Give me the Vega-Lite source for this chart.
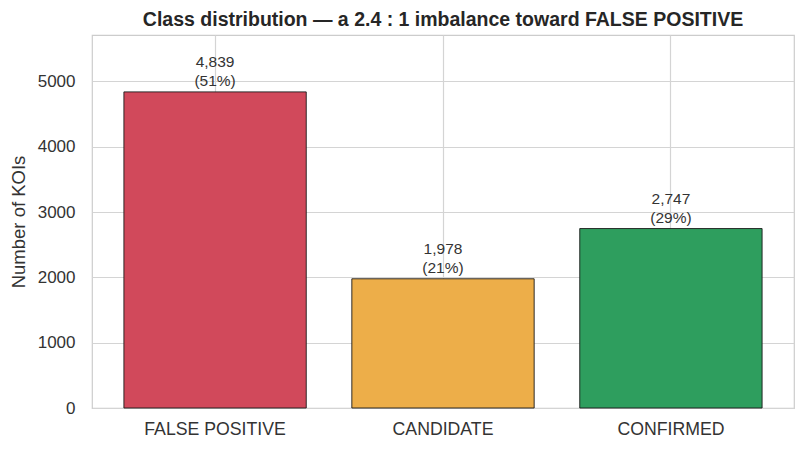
{
  "$schema": "https://vega.github.io/schema/vega-lite/v6.json",
  "autosize": {"type": "none"},
  "padding": {"left": 92, "top": 35, "right": 12, "bottom": 44},
  "width": 702,
  "height": 373,
  "background": "white",
  "title": {"text": "Class distribution — a 2.4 : 1 imbalance toward FALSE POSITIVE", "font": "Liberation Sans", "fontSize": 19.5, "fontWeight": "bold", "color": "#262626", "offset": 5},
  "config": {
    "view": {"stroke": "#cccccc", "strokeWidth": 1.2},
    "axis": {"labelFont": "Liberation Sans", "titleFont": "Liberation Sans", "labelColor": "#333333", "titleColor": "#333333", "gridColor": "#d4d4d4", "gridWidth": 1.2, "domain": false, "ticks": false}
  },
  "data": {"values": [
    {"cls": "FALSE POSITIVE", "n": 4839, "label": "4,839\n(51%)"},
    {"cls": "CANDIDATE", "n": 1978, "label": "1,978\n(21%)"},
    {"cls": "CONFIRMED", "n": 2747, "label": "2,747\n(29%)"}
  ]},
  "encoding": {
    "x": {"field": "cls", "type": "nominal", "sort": null, "title": null,
      "scale": {"paddingInner": 0.2, "paddingOuter": 0.14},
      "axis": {"labelAngle": 0, "labelFontSize": 17.7, "labelPadding": 12, "grid": true, "bandPosition": 0.5}},
    "y": {"field": "n", "type": "quantitative", "title": "Number of KOIs",
      "scale": {"domain": [0, 5710], "nice": false},
      "axis": {"values": [0, 1000, 2000, 3000, 4000, 5000], "format": "d", "labelFontSize": 17, "titleFontSize": 18.5, "titleFontWeight": "normal", "labelPadding": 17, "titlePadding": 9, "grid": true}}
  },
  "layer": [
    {"mark": {"type": "bar", "stroke": "#1a1a1a", "strokeWidth": 0.9},
     "encoding": {"color": {"field": "cls", "type": "nominal", "legend": null,
       "scale": {"domain": ["FALSE POSITIVE", "CANDIDATE", "CONFIRMED"], "range": ["#d1495b", "#edae49", "#2e9e5e"]}}}},
    {"mark": {"type": "text", "baseline": "alphabetic", "dy": -25, "lineBreak": "\n", "font": "Liberation Sans", "fontSize": 15.5, "color": "#333333", "lineHeight": 19},
     "encoding": {"text": {"field": "label"}}}
  ]
}
